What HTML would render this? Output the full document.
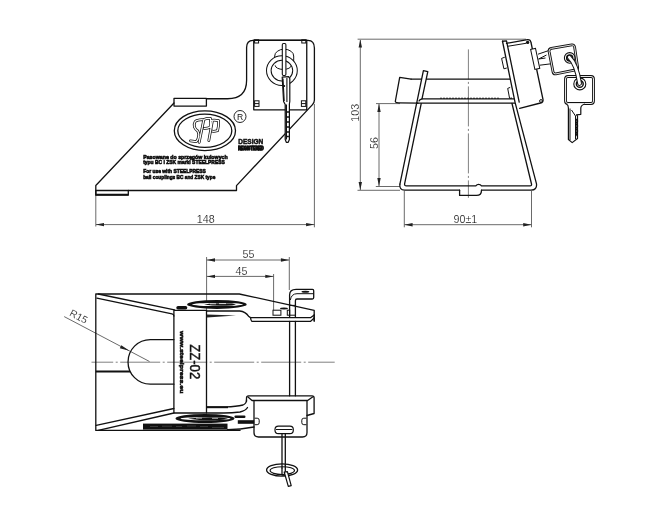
<!DOCTYPE html>
<html><head><meta charset="utf-8">
<style>
html,body{margin:0;padding:0;background:#fff;}
body{width:650px;height:512px;overflow:hidden;}
svg{display:block;will-change:transform;}
text{font-family:"Liberation Sans",sans-serif;}
.o{fill:none;stroke:#111;stroke-width:1.3;stroke-linejoin:round;stroke-linecap:round;}
.t{fill:none;stroke:#111;stroke-width:1;}
.d{fill:none;stroke:#444;stroke-width:0.8;}
.c{fill:none;stroke:#555;stroke-width:0.75;stroke-dasharray:40 2.5 2 2.5;}
.ah{fill:#222;stroke:none;}
.dt{font-size:10.7px;fill:#111;stroke:#fff;stroke-width:0.15px;}
.b{font-weight:bold;fill:#111;}
</style></head><body>
<svg width="650" height="512" viewBox="0 0 650 512">

<!-- ============ FRONT VIEW (top-left) ============ -->
<g id="front">
  <!-- main outline -->
  <path class="o" d="M95.8,195.2 V185.5 L174,103 M206.4,98.75 H227.5 Q246.6,98.75 246.6,80.3 V47.5 Q246.6,40.6 253,40.4 H308 Q314.4,40.6 314.4,48 V100 Q314.4,102.5 312.5,104.6 L236.5,185.6 V190.5 H95.8"/>
  <!-- small top rect -->
  <rect class="o" x="174" y="98.3" width="32.4" height="7.8"/>
  <!-- small bottom rect -->
  <path class="o" d="M95.8,190.5 V195.2 H128.3 V190.5"/>
  <path d="M96,194.6 H128.3" stroke="#111" stroke-width="1.6"/>
  <!-- lock plate -->
  <rect class="o" x="253.75" y="40.2" width="53" height="69.6"/>
  <!-- corner squares -->
  <rect class="t" x="254.6" y="39.8" width="4" height="3.2"/>
  <rect class="t" x="301.8" y="39.8" width="4" height="3.2"/>
  <rect class="t" x="254.6" y="100.8" width="4.4" height="5.6"/>
  <path class="t" d="M254.6,103.6 h4.4"/>
  <rect class="t" x="301.4" y="100.8" width="4.4" height="5.6"/>
  <path class="t" d="M301.4,103.6 h4.4"/>
  <!-- cylinder behind ring -->
  <path class="t" d="M274.7,63 V56 A9.5,6.8 0 0 1 293.7,56 V63"/>
  <path class="t" d="M275.2,65.4 A8,4 0 0 0 291.3,65.4"/>
  <!-- ring -->
  <ellipse cx="281.9" cy="70.6" rx="13.1" ry="12.6" fill="none" stroke="#111" stroke-width="5.6"/>
  <ellipse cx="281.9" cy="70.6" rx="13.1" ry="12.6" fill="none" stroke="#fff" stroke-width="3.6"/>
  <!-- key shaft -->
  <rect x="282.3" y="43.5" width="3.6" height="32" rx="1.2" fill="#fff" stroke="#111" stroke-width="1.1"/>
  <!-- key blade -->
  <path fill="#fff" stroke="#111" stroke-width="1.2" stroke-linejoin="round" d="M282.2,77.2 L288.6,76.6 L289.8,78.5 V101.5 L289.4,104 V139.5 L288.2,142.3 H286.3 L285.2,139.5 V104.5 L283.6,101.5 Z"/>
  <path d="M283,78.5 L284.2,101 M286.9,78 V102" stroke="#111" stroke-width="1.1"/>
  <circle cx="284.3" cy="86" r="0.9" fill="#111"/>
  <path d="M286.3,104.5 V139.5" stroke="#111" stroke-width="1.4" fill="none"/>
  <path stroke="#111" stroke-width="1.3" d="M286.5,112 h2.6 M286.5,117 h2.6 M286.5,122 h2.6 M286.5,127 h2.6 M286.5,132 h2.6 M286.5,136.5 h2.4"/>
  <!-- logo -->
  <ellipse class="o" cx="204.9" cy="130.7" rx="30.6" ry="19.9"/>
  <ellipse class="o" cx="204.8" cy="130.7" rx="27" ry="16.6"/>
  <g fill="none" stroke-linecap="round" stroke-linejoin="round">
    <path d="M202.3,119.7 Q197,120 195.2,121.5 Q193.6,124 194.4,127 Q195.5,129.5 197.8,131 Q199.2,133.5 198.6,136.6 Q198,140 196.3,141.6 L190.5,140.8 M203.8,119.5 Q207,118 210.4,118.4 Q211,122 210.2,127.2 Q207,128.6 204.2,128.4 M203.8,119.7 L199.2,142.3 M211.5,120.3 Q215,119.8 218.6,120.6 Q218.8,126 217.6,130.6 Q214.6,131.5 212.4,131.2 M212.3,121.2 L208.8,140.6" stroke="#111" stroke-width="2.8"/>
    <path d="M202.3,119.7 Q197,120 195.2,121.5 Q193.6,124 194.4,127 Q195.5,129.5 197.8,131 Q199.2,133.5 198.6,136.6 Q198,140 196.3,141.6 L190.5,140.8 M203.8,119.5 Q207,118 210.4,118.4 Q211,122 210.2,127.2 Q207,128.6 204.2,128.4 M203.8,119.7 L199.2,142.3 M211.5,120.3 Q215,119.8 218.6,120.6 Q218.8,126 217.6,130.6 Q214.6,131.5 212.4,131.2 M212.3,121.2 L208.8,140.6" stroke="#fff" stroke-width="1.3"/>
  </g>
  <!-- registered -->
  <circle cx="240" cy="116.5" r="6" fill="none" stroke="#111" stroke-width="0.9"/>
  <text x="240.1" y="119.6" font-size="8.6" fill="#111" text-anchor="middle">R</text>
  <text x="238.3" y="143.5" font-size="7.4" class="b" stroke="#111" stroke-width="0.5" textLength="24.9" lengthAdjust="spacingAndGlyphs">DESIGN</text>
  <text x="238.3" y="150.2" font-size="5" class="b" stroke="#111" stroke-width="1.3" textLength="25.4" lengthAdjust="spacingAndGlyphs">REGISTERED</text>
  <text x="143.2" y="158.6" font-size="6" class="b" stroke="#111" stroke-width="0.65" textLength="84.5" lengthAdjust="spacingAndGlyphs">Pasowane do sprzęgów kulowych</text>
  <text x="143.2" y="164.2" font-size="6" class="b" stroke="#111" stroke-width="0.65" textLength="81.6" lengthAdjust="spacingAndGlyphs">typu BC i ZSK marki STEELPRESS</text>
  <text x="143.2" y="172.9" font-size="6" class="b" stroke="#111" stroke-width="0.65" textLength="62.6" lengthAdjust="spacingAndGlyphs">For use with STEELPRESS</text>
  <text x="143.2" y="178.5" font-size="6" class="b" stroke="#111" stroke-width="0.65" textLength="72.1" lengthAdjust="spacingAndGlyphs">ball couplings BC and ZSK type</text>
  <!-- 148 dimension -->
  <path class="d" d="M95.8,196 V226.5 M314.4,104 V227.3 M96,224.6 H314.5"/>
  <path class="ah" d="M95.8,224.6 L104,222.9 L104,226.3 Z M314.3,224.6 L306.1,222.9 L306.1,226.3 Z"/>
  <text class="dt" x="205.7" y="222.5" text-anchor="middle">148</text>
</g>

<!-- ============ SIDE VIEW (top-right) ============ -->
<g id="side">
  <!-- dimension 103 -->
  <path class="d" d="M357.6,39.2 H526 M357.5,190.3 H400 M360.3,40 V190"/>
  <path class="ah" d="M360.3,39.4 L358.6,47.6 L362,47.6 Z M360.3,190.1 L358.6,181.9 L362,181.9 Z"/>
  <text class="dt" transform="translate(358.6,112.8) rotate(-90)" text-anchor="middle">103</text>
  <!-- dimension 56 -->
  <path class="d" d="M376,103.6 H400 M375.8,186.5 H400 M379,104 V186"/>
  <path class="ah" d="M379,103.8 L377.3,112 L380.7,112 Z M379,186.3 L377.3,178.1 L380.7,178.1 Z"/>
  <text class="dt" transform="translate(377.6,143) rotate(-90)" text-anchor="middle">56</text>
  <!-- dimension 90±1 -->
  <path class="d" d="M404.3,191 V227.3 M531.5,191 V227.3 M404.5,224.7 H531.3"/>
  <path class="ah" d="M404.4,224.7 L412.6,223 L412.6,226.4 Z M531.4,224.7 L523.2,223 L523.2,226.4 Z"/>
  <text class="dt" x="465.4" y="222.6" text-anchor="middle">90±1</text>
  <!-- centerline -->
  <path class="c" d="M468.4,49.4 V197.8" style="stroke-dashoffset:10"/>
  <!-- frustum outer/inner -->
  <path class="o" d="M399.9,184.2 Q399.3,190.2 404.5,190.2 H459.6 M481.5,190.2 H531 Q537.2,190 536.5,183.8 L515,102.2 L502.5,41.25"/>
  <path class="o" d="M421.2,103.7 L404.6,183.8 Q404.4,185.9 406.4,185.9 H475.8 Q477,184.3 478.5,184.3 Q480.5,184.3 481.5,185.9 H530 Q531.9,185.9 531.5,184 L512,103.5"/>
  <!-- notch tab -->
  <path class="o" d="M459.6,190.2 V195.4 H476.5 Q481.5,195.4 481.5,190.2"/>
  <!-- top band -->
  <path class="o" d="M411.1,79.1 H509.8"/>
  <!-- handle tab -->
  <path class="o" d="M411.1,79.1 L399.7,77.3 L395.3,101.5 Q395.5,102.8 398.8,102.8 L418,103.2"/>
  <!-- post (in front) -->
  <path d="M423.4,70.7 L427.8,71.6 L422,98.8 L417.8,98.8 Z" fill="#fff" stroke="none"/>
  <path class="o" d="M399.9,184.2 L423.4,70.7 L427.8,71.6 L422,98.8"/>
  <!-- rim band -->
  <path class="o" d="M422,98.8 Q419.5,99.5 419,101 M422,98.8 H514 M416.5,103.2 H515"/>
  <path d="M440,98.2 H500" stroke="#111" stroke-width="0.8" stroke-dasharray="2 1"/>
  <!-- mounting plate strip -->
  <path class="o" d="M502.5,41.25 L506.5,40.8 L519.2,102.2"/>
  <!-- small lugs on plate -->
  <path class="t" d="M504.8,57.2 L501.6,58.4 L503.9,68.8 L506.8,68 M510.2,87.4 L507.7,88.4 L509.6,98.4 L512,98"/>
  <!-- lock body -->
  <path class="o" d="M506.5,43.3 L527.5,39.7 Q530.5,39.5 531,42.5 L543,99.5 Q543.5,102.5 540.5,103 L519.7,108.4"/>
  <circle cx="527.6" cy="42.4" r="1.7" fill="#111"/>
  <path class="t" d="M507.6,46.3 L526,43.3"/>
  <circle class="t" cx="541" cy="101" r="1.4"/>
  <!-- key in lock -->
  <rect class="t" style="fill:#fff" x="532.7" y="48.7" width="5" height="20.5" transform="rotate(-12 535 59)"/>
  <path class="t" d="M538,54.2 L549.2,50.4 M539.8,65.2 L551,63.8 M538.6,59 L546.5,55 M538.6,59 L545.5,58"/>
  <path d="M549.1,51.5 Q548.7,48.9 551.4,48.4 L571.7,44.9 Q574.2,44.5 574.6,47.1 L577.6,67.1 Q578,69.6 575.4,70 L555.9,73.9 Q553.4,74.3 553,71.8 Z" fill="#fff" stroke="#111" stroke-width="2.8"/>
  <path d="M549.1,51.5 Q548.7,48.9 551.4,48.4 L571.7,44.9 Q574.2,44.5 574.6,47.1 L577.6,67.1 Q578,69.6 575.4,70 L555.9,73.9 Q553.4,74.3 553,71.8 Z" fill="none" stroke="#fff" stroke-width="0.9"/>
  <!-- ring between keys -->
  <circle cx="569.7" cy="57.9" r="5.3" fill="#fff" stroke="#111" stroke-width="1.1"/>
  <circle cx="569.7" cy="57.9" r="3" fill="none" stroke="#111" stroke-width="1.5"/>
  <!-- second key -->
  <path d="M565.5,79 Q565.5,76.5 568,76.5 H591 Q593.5,76.5 593.5,79 V101 Q593.5,103.5 591,103.5 H568 Q565.5,103.5 565.5,101 Z" fill="#fff" stroke="#111" stroke-width="2.8"/>
  <path d="M565.5,79 Q565.5,76.5 568,76.5 H591 Q593.5,76.5 593.5,79 V101 Q593.5,103.5 591,103.5 H568 Q565.5,103.5 565.5,101 Z" fill="none" stroke="#fff" stroke-width="0.9"/>
  <circle cx="579.8" cy="83.9" r="6" fill="#fff" stroke="#111" stroke-width="1.1"/>
  <circle cx="579.8" cy="83.9" r="3.4" fill="none" stroke="#111" stroke-width="1.5"/>
  <path d="M569.3,57.2 Q576.5,64 579.6,83.5" fill="none" stroke="#111" stroke-width="4.8" stroke-linecap="round"/>
  <path d="M569.3,57.2 Q576.5,64 579.6,83.5" fill="none" stroke="#fff" stroke-width="2.8" stroke-linecap="round"/>
  <path d="M566.5,104 Q568.4,105 568.4,108 V139.5 L572.2,142.6 L577.5,138.5 V116 L576.5,114.8 L580.8,114.3 V108 Q581,105 585,104" fill="#fff" stroke="#111" stroke-width="1.2" stroke-linejoin="round"/>
  <path class="t" d="M570,108.5 V140 M571.5,110 L575.5,116 V139"/>
  <path d="M575.8,119 L577.5,121 L575.8,123.5 L577.5,126 L575.8,128.5 L577.5,131 L575.8,133.5 L577.5,136" fill="none" stroke="#111" stroke-width="1.4"/>
</g>

<!-- ============ PLAN VIEW (bottom) ============ -->
<g id="plan">
  <!-- dims 55 / 45 -->
  <path class="d" d="M206.6,257 V312 M289.3,257 V290 M273.6,274 V310 M206.8,260 H289 M206.8,276.4 H273.4"/>
  <path class="ah" d="M206.8,260 L215,258.3 L215,261.7 Z M289.1,260 L280.9,258.3 L280.9,261.7 Z M206.8,276.4 L215,274.7 L215,278.1 Z M273.5,276.4 L265.3,274.7 L265.3,278.1 Z"/>
  <text class="dt" x="248.5" y="258.2" text-anchor="middle">55</text>
  <text class="dt" x="241.5" y="274.8" text-anchor="middle">45</text>
  <!-- centerline -->
  <path class="c" d="M91.5,362.2 H334.7" style="stroke-dashoffset:18.3"/>
  <!-- R15 leader -->
  <path class="d" d="M64.2,316.6 L149.5,361.5"/>
  <path class="ah" d="M129.3,350.8 L121.3,345.3 L119.8,348.3 Z"/>
  <text class="dt" transform="translate(68.8,315.2) rotate(27.8)" style="font-size:10.2px">R15</text>
  <!-- frame outer -->
  <path class="o" d="M95.8,430.4 V294 H239.3 L314.2,310.3 V321 M95.8,430.4 H240"/>
  <path class="o" d="M98.3,294 L174.5,309.9 M96.9,298.2 L172,313.9 Q173.9,314.4 173.9,316"/>
  <path class="o" d="M96.2,425.3 L173.9,408.5 M98.2,430.4 L173.9,413"/>
  <!-- ball recess -->
  <path class="o" d="M173.9,339.6 H150.3 A22.3,22.3 0 0 0 150.3,384.2 H173.9"/>
  <path d="M95.8,371.4 H130" stroke="#111" stroke-width="2"/>
  <!-- ZZ-02 plate -->
  <path class="o" d="M173.9,316 V413 H206.5 V310.4 H173.9 V316"/>
  <text transform="translate(190.2,344.2) rotate(90)" font-size="14" fill="#111" stroke="#111" stroke-width="0.45" textLength="35" lengthAdjust="spacingAndGlyphs">ZZ-02</text>
  <text transform="translate(180,331) rotate(90)" font-size="5.2" class="b" stroke="#111" stroke-width="0.5" textLength="62.4" lengthAdjust="spacingAndGlyphs">www.steelpress.eu</text>
  <!-- top ellipse logo edge-on -->
  <ellipse cx="216.9" cy="304.4" rx="29.8" ry="4.5" fill="#111"/>
  <ellipse cx="217.5" cy="304.5" rx="25.5" ry="1.6" fill="#fff"/>
  <path d="M204,304.4 Q214,302.4 232,303.6 L236,304.6 L232,305.4 Q216,306.6 204,304.4" fill="#111"/>
  <path d="M210,303.8 h6 M219,303.6 h7" stroke="#fff" stroke-width="0.8"/>
  <rect x="176.3" y="306" width="11" height="3.5" rx="1.7" fill="#111"/>
  <!-- upper plate band -->
  <path class="o" d="M206.5,311 H239.7 Q245.5,311.6 248.5,316.2 L250.5,317.6 H310.8 L314.2,315 M252,321.4 H310.4 L314.2,318 M250.5,317.6 Q250.8,320.5 252,321.4"/>
  <path d="M207,314.6 L236,315.5 L207,317.6 Z" fill="#222"/>
  <path d="M314.2,315 V321" class="o"/>
  <!-- small rects -->
  <rect class="t" x="273" y="310.2" width="7.9" height="5"/>
  <rect class="t" x="287.3" y="310.2" width="2.4" height="5"/>
  <ellipse cx="284" cy="308.5" rx="3.9" ry="0.9" fill="#111"/>
  <!-- pin -->
  <path class="o" d="M289.6,317.3 V295 Q289.6,289.3 296.1,289.3 H312.5 Q313.7,289.3 313.7,290.8 V297.5 Q313.7,299 312.3,299 H297 Q295.4,299 295.4,300.8 V317.3"/>
  <path class="t" d="M290.3,300 Q291.5,293.7 297,293.7 H313.5"/>
  <path class="t" d="M289.6,305.4 H295.4 M289.6,315.2 H295.4"/>
  <ellipse cx="305.4" cy="291.7" rx="3.9" ry="1" fill="#111"/>
  <path class="o" d="M289.6,321.5 V395.8 M295.4,321.5 V395.8"/>
  <!-- lower band/lock body -->
  <path class="o" d="M246.5,401.5 V398 Q246.5,395.9 248.6,395.9 H312 Q314.1,395.9 314.1,398 V413.5 L307,415.5"/>
  <path class="o" d="M252,400.5 H307.6 M248,397 L252,400.5 M312.6,397 L307.6,400.5 M307,400.5 V432.5 Q307,437 302.5,437 H258.5 Q254,437 254,432.5 V400.5"/>
  <path class="o" d="M246.5,400 Q246.5,403.5 243,405 Q236,406.8 226,406.8 H206.7 M247.5,407.5 Q246,410.5 240,412 Q232,413 224,413 H206.7"/>
  <path d="M207,407.3 H228" stroke="#111" stroke-width="1.8"/>
  <path class="o" d="M227.5,429.6 Q240,429.6 254,427"/>
  <!-- slots -->
  <path class="t" d="M254.6,418.2 h2.6 q2,0 2,2 v2.5 q0,2 -2,2 h-2.6 M306.4,418.2 h-2.6 q-2,0 -2,2 v2.5 q0,2 2,2 h2.6"/>
  <!-- bottom ellipse logo -->
  <ellipse cx="205" cy="418.5" rx="29.5" ry="4.5" fill="#111"/>
  <ellipse cx="205.5" cy="418.7" rx="25" ry="1.6" fill="#fff"/>
  <path d="M188,418.7 Q206,416.4 223,417.8 L228,418.7 L223,419.8 Q206,421.2 188,418.7" fill="#111"/>
  <path d="M196,418.2 h6 M212,418.4 h6" stroke="#fff" stroke-width="0.6"/>
  <rect x="143" y="423.6" width="84.5" height="6" fill="#111"/>
  <path d="M150,426.5 h8 M162,426.2 h10 M176,426.5 h6 M187,426 h9 M200,426.6 h8 M212,427.6 h12" stroke="#fff" stroke-width="0.5" opacity="0.35"/>
  <rect x="234.4" y="415.5" width="11.1" height="2.4" rx="1.2" fill="#111"/>
  <rect x="237.8" y="420.2" width="16.4" height="3.6" fill="#111"/>
  <!-- key -->
  <rect x="275" y="426.2" width="18.3" height="7.4" rx="3.4" fill="#fff" stroke="#111" stroke-width="1.2"/>
  <path class="t" d="M276,429.5 H292.3"/>
  <path class="o" d="M282,433.6 V468 M285.3,433.6 V466"/>
  <ellipse cx="282.1" cy="470" rx="15.5" ry="6.2" fill="none" stroke="#111" stroke-width="1.3"/>
  <ellipse cx="282.3" cy="470.6" rx="12.2" ry="3.9" fill="none" stroke="#111" stroke-width="1.1"/>
  <path class="o" d="M282,468 V475 H285.3 V466"/>
  <path d="M284.2,472 L288.3,486.4 L291.2,485.6 L287.4,471.6 Z" fill="#fff" stroke="#111" stroke-width="1.2" stroke-linejoin="round"/>
</g>
</svg>
</body></html>
